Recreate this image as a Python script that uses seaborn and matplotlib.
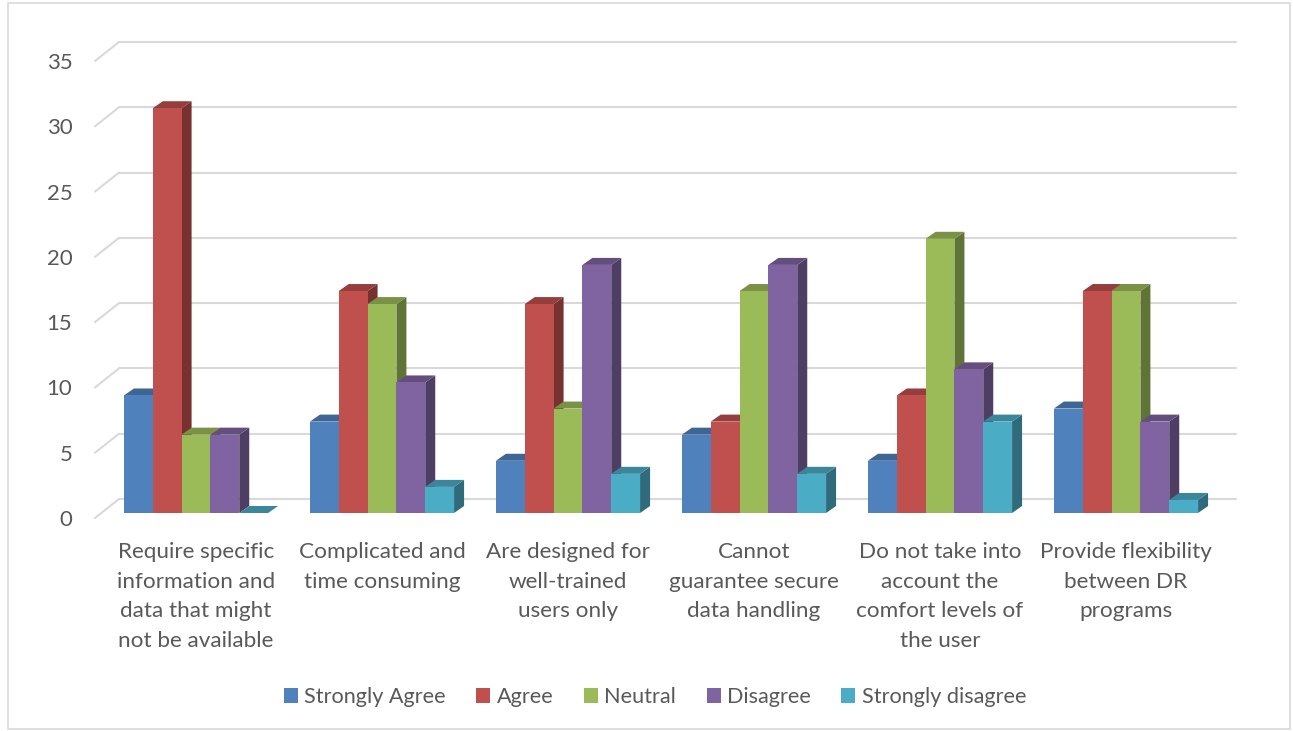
import numpy as np
import matplotlib as mpl
mpl.use('Agg')

import matplotlib.pyplot as plt
import matplotlib.colors as mcolors
import matplotlib.transforms as mtransforms
from matplotlib.patches import Polygon, Rectangle
import seaborn as sns
import pandas as pd

categories = ["Require specific\ninformation and\ndata that might\nnot be available",
              "Complicated and\ntime consuming",
              "Are designed for\nwell-trained\nusers only",
              "Cannot\nguarantee secure\ndata handling",
              "Do not take into\naccount the\ncomfort levels of\nthe user",
              "Provide flexibility\nbetween DR\nprograms"]
responses = ["Strongly Agree", "Agree", "Neutral", "Disagree", "Strongly disagree"]
strongly_agree = [9, 7, 4, 6, 4, 8]
agree = [31, 17, 16, 7, 9, 17]
neutral = [6, 16, 8, 17, 21, 17]
disagree = [6, 10, 19, 19, 11, 7]
strongly_disagree = [0, 2, 3, 3, 7, 1]
colors = ["#4F81BD", "#C0504D", "#9BBB59", "#8064A2", "#4BACC6"]

series = [strongly_agree, agree, neutral, disagree, strongly_disagree]
rows = []
for resp, vals in zip(responses, series):
    for cat, v in zip(categories, vals):
        rows.append({"Category": cat, "Response": resp, "Count": v})
df = pd.DataFrame(rows)

sns.set_style("white")
plt.rcParams['font.family'] = ['Lato', 'DejaVu Sans']
txt = "#595959"

fig = plt.figure(figsize=(12.93, 7.31), dpi=100)
ax = fig.add_axes([103 / 1293, 1 - 513 / 731, 1116 / 1293, 457 / 731])

sns.barplot(data=df, x="Category", y="Count", hue="Response", order=categories,
            hue_order=responses, palette=colors, width=0.775, saturation=1,
            ax=ax, legend=False)
ax.set_xlim(-0.5, 5.5)
ax.set_ylim(0, 35)

# depth of the fake 3d effect in data units
px_x = 1 / 186.0
px_y = 35 / 457.0
dx, dy = 10 * px_x, 7 * px_y

def shade(c, f):
    r, g, b = mcolors.to_rgb(c)
    return (r * f, g * f, b * f)

patches = sorted([p for p in ax.patches], key=lambda p: p.get_x())
for k, p in enumerate(patches):
    x0 = p.get_x()
    x1 = x0 + p.get_width()
    h = p.get_height()
    c = p.get_facecolor()
    p.set_zorder(4 + 3 * k)
    p.set_edgecolor('none')
    side = Polygon([(x1, 0), (x1 + dx, dy), (x1 + dx, h + dy), (x1, h)],
                   closed=True, facecolor=shade(c, 0.62), edgecolor='none',
                   zorder=3 + 3 * k, clip_on=False)
    top = Polygon([(x0, h), (x0 + dx, h + dy), (x1 + dx, h + dy), (x1, h)],
                  closed=True, facecolor=shade(c, 0.78), edgecolor='none',
                  zorder=3 + 3 * k, clip_on=False)
    ax.add_patch(side)
    ax.add_patch(top)

# back wall gridlines with short diagonals (front end sits a bit below the bar plane)
x_front = -0.5 - 8 * px_x
for v in range(0, 36, 5):
    y_front = v - 5 * px_y
    y_back = v + 14 * px_y
    ax.plot([x_front, x_front + 24 * px_x], [y_front, y_back], color="#d9d9d9",
            lw=1.5, clip_on=False, zorder=1)
    ax.plot([x_front + 24 * px_x, 5.5 + 17 * px_x], [y_back, y_back],
            color="#d9d9d9", lw=1.5, clip_on=False, zorder=1)

ax.grid(False)
sns.despine(ax=ax, left=True, bottom=True)
ax.set_xlabel("")
ax.set_ylabel("")
ax.set_yticks(range(0, 36, 5))
ax.tick_params(axis='y', length=0, pad=22, labelsize=16, labelcolor=txt)
ax.tick_params(axis='x', length=0, pad=21, labelsize=16.2, labelcolor=txt)
shift = mtransforms.ScaledTranslation(0, -5 / 100, fig.dpi_scale_trans)
for t in ax.get_yticklabels():
    t.set_transform(t.get_transform() + shift)
for t in ax.get_xticklabels():
    t.set_linespacing(1.6)
    t.set_va('top')

handles = [Rectangle((0, 0), 1, 1, facecolor=c, edgecolor='none') for c in colors]
fig.legend(handles, responses, loc='center', bbox_to_anchor=(655 / 1293, 1 - 697 / 731),
           ncol=5, frameon=False, fontsize=15.6, handlelength=0.65, handleheight=0.65,
           handletextpad=0.3, columnspacing=1.4, labelcolor=txt)

fig.patches.append(Rectangle((8 / 1293, 2 / 731), 1282 / 1293, 726 / 731,
                             transform=fig.transFigure, fill=False,
                             edgecolor="#d9d9d9", lw=1.2))

plt.savefig('out.png', dpi=100)
plt.close()
